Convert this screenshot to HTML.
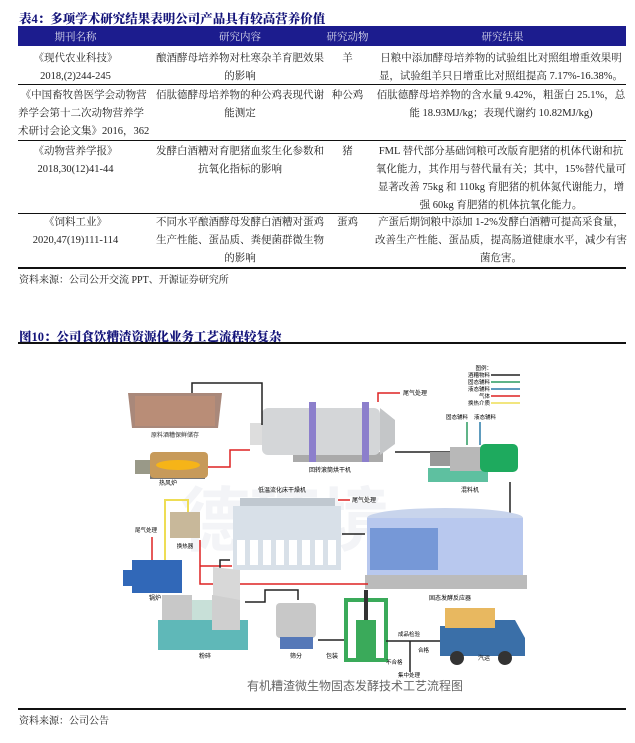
<!DOCTYPE html>
<html><head><meta charset="utf-8"><style>
body{margin:0;width:635px;height:743px;background:#fff;position:relative;overflow:hidden;font-family:"Liberation Serif","Noto Serif CJK SC",serif;color:#222}
.t{position:absolute;font-size:10.5px;white-space:nowrap}
.h{position:absolute;font-weight:900;color:#14147a;font-size:12.5px;font-family:"Liberation Serif","Noto Serif CJK SC",serif}
.c{text-align:center}
.line{position:absolute;left:18px;width:608px;background:#111}
</style></head><body>
<div class="h" style="left:19px;top:9px">表4：多项学术研究结果表明公司产品具有较高营养价值</div>
<div style="position:absolute;left:18px;top:26px;width:608px;height:20px;background:#1c1c8e"></div>
<div class="t c" style="left:18px;top:29px;width:115px;color:#dde">期刊名称</div>
<div class="t c" style="left:150px;top:29px;width:180px;color:#dde">研究内容</div>
<div class="t c" style="left:325px;top:29px;width:45px;color:#dde">研究动物</div>
<div class="t c" style="left:380px;top:29px;width:245px;color:#dde">研究结果</div>

<div class="t c" style="left:18px;top:50px;width:115px;line-height:18px">《现代农业科技》<br>2018,(2)244-245</div>
<div class="t c" style="left:145px;top:50px;width:190px;line-height:18px">酿酒酵母培养物对杜寒杂羊育肥效果<br>的影响</div>
<div class="t c" style="left:325px;top:50px;width:45px">羊</div>
<div class="t c" style="left:375px;top:50px;width:252px;line-height:18px">日粮中添加酵母培养物的试验组比对照组增重效果明<br>显，试验组羊只日增重比对照组提高 7.17%-16.38%。</div>
<div class="line" style="top:84px;height:1px"></div>

<div class="t" style="left:18px;top:87px;line-height:18px">&nbsp;《中国畜牧兽医学会动物营<br>养学会第十二次动物营养学<br>术研讨会论文集》2016，362</div>
<div class="t c" style="left:145px;top:87px;width:190px;line-height:18px">佰肽德酵母培养物的种公鸡表现代谢<br>能测定</div>
<div class="t c" style="left:325px;top:87px;width:45px">种公鸡</div>
<div class="t c" style="left:375px;top:87px;width:252px;line-height:18px">佰肽德酵母培养物的含水量 9.42%，粗蛋白 25.1%，总<br>能 18.93MJ/kg；表现代谢约 10.82MJ/kg)</div>
<div class="line" style="top:140px;height:1px"></div>

<div class="t c" style="left:18px;top:143px;width:115px;line-height:18px">《动物营养学报》<br>2018,30(12)41-44</div>
<div class="t c" style="left:145px;top:143px;width:190px;line-height:18px">发酵白酒糟对育肥猪血浆生化参数和<br>抗氧化指标的影响</div>
<div class="t c" style="left:325px;top:143px;width:45px">猪</div>
<div class="t c" style="left:375px;top:143px;width:252px;line-height:18px">FML 替代部分基础饲粮可改版育肥猪的机体代谢和抗<br>氧化能力，其作用与替代量有关；其中，15%替代量可<br>显著改善 75kg 和 110kg 育肥猪的机体氮代谢能力，增<br>强 60kg 育肥猪的机体抗氧化能力。</div>
<div class="line" style="top:213px;height:1px"></div>

<div class="t c" style="left:18px;top:214px;width:115px;line-height:18px">《饲料工业》<br>2020,47(19)111-114</div>
<div class="t c" style="left:145px;top:214px;width:190px;line-height:18px">不同水平酿酒酵母发酵白酒糟对蛋鸡<br>生产性能、蛋品质、粪便菌群微生物<br>的影响</div>
<div class="t c" style="left:325px;top:214px;width:45px">蛋鸡</div>
<div class="t c" style="left:375px;top:214px;width:252px;line-height:18px">产蛋后期饲粮中添加 1-2%发酵白酒糟可提高采食量，<br>改善生产性能、蛋品质，提高肠道健康水平，减少有害<br>菌危害。</div>
<div class="line" style="top:267px;height:1.5px"></div>
<div class="t" style="left:19px;top:271px;font-size:10px">资料来源：公司公开交流 PPT、开源证券研究所</div>

<div class="h" style="left:19px;top:327px">图10：公司食饮糟渣资源化业务工艺流程较复杂</div>
<div class="line" style="top:342px;height:1.5px"></div>

<svg style="position:absolute;left:0;top:0" width="635" height="743" font-family="Liberation Sans,Noto Sans CJK SC,sans-serif">
<text x="180" y="545" font-size="70" fill="#f3f4f7" font-weight="bold">德环境</text>
<polygon points="128,393 222,393 218,428 132,428" fill="#a9887a"/>
<rect x="135" y="396" width="80" height="30" fill="#b98d77"/>
<text x="175" y="437" font-size="6" text-anchor="middle" fill="#333">原料酒糟保鲜储存</text>
<rect x="150" y="473" width="55" height="6" fill="#777"/>
<rect x="150" y="452" width="58" height="26" rx="4" fill="#c79a5a"/>
<ellipse cx="178" cy="465" rx="22" ry="5" fill="#f6b418"/>
<rect x="135" y="460" width="15" height="14" fill="#998"/>
<text x="168" y="485" font-size="6" text-anchor="middle">热风炉</text>
<rect x="293" y="452" width="90" height="10" fill="#aaa"/>
<rect x="250" y="423" width="15" height="22" fill="#ddd"/>
<rect x="262" y="408" width="118" height="47" rx="6" fill="#d4d6d8"/>
<polygon points="380,408 395,420 395,444 380,455" fill="#c4c6c8"/>
<rect x="309" y="402" width="7" height="60" fill="#8c7fcc"/>
<rect x="362" y="402" width="7" height="60" fill="#8c7fcc"/>
<text x="330" y="472" font-size="6" text-anchor="middle">回转滚筒烘干机</text>
<polyline points="192,393 192,383 262,383 262,425" fill="none" stroke="#222" stroke-width="1.5"/>
<polyline points="208,467 230,467 230,450 250,450" fill="none" stroke="#d22" stroke-width="1.5"/>
<polyline points="378,402 378,393 400,393" fill="none" stroke="#d22" stroke-width="1.5"/>
<text x="403" y="395" font-size="6">尾气处理</text>
<polyline points="395,452 452,452 452,462" fill="none" stroke="#222" stroke-width="1.5"/>
<g font-size="5.5" text-anchor="end">
<text x="492" y="370">图例：</text>
<text x="490" y="377">酒糟物料</text><line x1="491" y1="375" x2="520" y2="375" stroke="#222" stroke-width="1.5"/>
<text x="490" y="384">固态辅料</text><line x1="491" y1="382" x2="520" y2="382" stroke="#2a9a60" stroke-width="1.5"/>
<text x="490" y="391">液态辅料</text><line x1="491" y1="389" x2="520" y2="389" stroke="#2a7aa8" stroke-width="1.5"/>
<text x="490" y="398">气体</text><line x1="491" y1="396" x2="520" y2="396" stroke="#d22" stroke-width="1.5"/>
<text x="490" y="405">换热介质</text><line x1="491" y1="403" x2="520" y2="403" stroke="#eedd55" stroke-width="1.5"/>
<text x="468" y="419">固态辅料</text><text x="496" y="419">液态辅料</text>
</g>
<line x1="467" y1="422" x2="467" y2="445" stroke="#2a9a60" stroke-width="1.5"/>
<line x1="480" y1="422" x2="480" y2="445" stroke="#2a7aa8" stroke-width="1.5"/>
<rect x="428" y="468" width="60" height="14" fill="#5ec0a0"/>
<rect x="450" y="447" width="32" height="24" fill="#b8b8b8"/>
<rect x="480" y="444" width="38" height="28" rx="5" fill="#1eaa5e"/>
<rect x="430" y="452" width="20" height="14" fill="#999"/>
<text x="470" y="492" font-size="6" text-anchor="middle">混料机</text>
<polyline points="510,482 510,515 445,515 445,525" fill="none" stroke="#222" stroke-width="1.5"/>
<text x="282" y="492" font-size="6" text-anchor="middle">低温流化床干燥机</text>
<rect x="240" y="498" width="95" height="8" fill="#c0c8d0"/>
<rect x="233" y="506" width="108" height="64" fill="#d8e0e8"/>
<g fill="#fff"><rect x="237" y="540" width="8" height="25"/><rect x="250" y="540" width="8" height="25"/><rect x="263" y="540" width="8" height="25"/><rect x="276" y="540" width="8" height="25"/><rect x="289" y="540" width="8" height="25"/><rect x="302" y="540" width="8" height="25"/><rect x="315" y="540" width="8" height="25"/><rect x="328" y="540" width="8" height="25"/></g>
<polyline points="338,500 350,500" stroke="#d22" stroke-width="1.5"/>
<text x="352" y="502" font-size="6">尾气处理</text>
<ellipse cx="445" cy="518" rx="78" ry="10" fill="#c8d4ec"/>
<rect x="367" y="518" width="156" height="65" fill="#b8c8ee"/>
<rect x="370" y="528" width="68" height="42" fill="#4a78c8" opacity=".6"/>
<rect x="365" y="575" width="162" height="14" fill="#bbb"/>
<text x="450" y="600" font-size="6" text-anchor="middle">固态发酵反应器</text>
<line x1="365" y1="534" x2="342" y2="534" stroke="#222" stroke-width="1.5"/>
<rect x="170" y="512" width="30" height="26" fill="#c8b89a"/>
<text x="185" y="548" font-size="5.5" text-anchor="middle">换热器</text>
<polyline points="165,560 165,500 188,500 188,512" fill="none" stroke="#eedd55" stroke-width="2"/>
<line x1="152" y1="560" x2="152" y2="537" stroke="#d22" stroke-width="1.5"/>
<text x="135" y="532" font-size="5.5">尾气处理</text>
<rect x="132" y="560" width="50" height="33" fill="#3168b8"/>
<rect x="123" y="570" width="12" height="16" fill="#3168b8"/>
<text x="155" y="600" font-size="6" text-anchor="middle">锅炉</text>
<polyline points="200,540 200,584 368,584" fill="none" stroke="#d22" stroke-width="1.5"/>
<line x1="200" y1="566" x2="232" y2="566" stroke="#d22" stroke-width="1.5"/>
<polyline points="230,560 220,560 220,590" fill="none" stroke="#222" stroke-width="1.5"/>
<rect x="158" y="620" width="90" height="30" fill="#5fb8b8"/>
<rect x="162" y="595" width="30" height="25" fill="#c8c8c8"/>
<rect x="192" y="600" width="20" height="20" fill="#c8e0d8"/>
<rect x="212" y="595" width="28" height="35" fill="#cfcfcf"/>
<polygon points="213,595 240,600 240,570 213,567" fill="#d8d8d8"/>
<text x="205" y="658" font-size="6" text-anchor="middle">粉碎</text>
<polyline points="245,602 265,602 265,590 298,590 298,600" fill="none" stroke="#222" stroke-width="1.5"/>
<rect x="276" y="603" width="40" height="35" rx="4" fill="#c8c8c8"/>
<rect x="280" y="637" width="33" height="12" fill="#5578b8"/>
<text x="296" y="658" font-size="6" text-anchor="middle">筛分</text>
<line x1="318" y1="640" x2="345" y2="640" stroke="#222" stroke-width="1.5"/>
<rect x="346" y="600" width="40" height="60" fill="none" stroke="#3aaa5a" stroke-width="4"/>
<rect x="356" y="620" width="20" height="38" fill="#3aaa5a"/>
<rect x="364" y="590" width="4" height="30" fill="#333"/>
<text x="332" y="658" font-size="6" text-anchor="middle">包装</text>
<line x1="386" y1="641" x2="440" y2="641" stroke="#222" stroke-width="1.5"/>
<line x1="410" y1="641" x2="410" y2="672" stroke="#222" stroke-width="1.5"/>
<g font-size="5.5"><text x="398" y="636">成品检验</text><text x="418" y="652">合格</text><text x="386" y="664">不合格</text><text x="398" y="677">集中处理</text></g>
<rect x="440" y="626" width="65" height="30" fill="#3a6fa8"/>
<rect x="445" y="608" width="50" height="20" fill="#e8b860"/>
<polygon points="495,620 515,620 525,638 525,656 495,656" fill="#3a6fa8"/>
<circle cx="457" cy="658" r="7" fill="#333"/><circle cx="505" cy="658" r="7" fill="#333"/>
<text x="478" y="660" font-size="6">汽运</text>
<text x="355" y="690" font-size="12" text-anchor="middle" fill="#666">有机糟渣微生物固态发酵技术工艺流程图</text>
</svg>
<div class="line" style="top:708px;height:1.5px"></div>
<div class="t" style="left:19px;top:712px;font-size:10px">资料来源：公司公告</div>
</body></html>
